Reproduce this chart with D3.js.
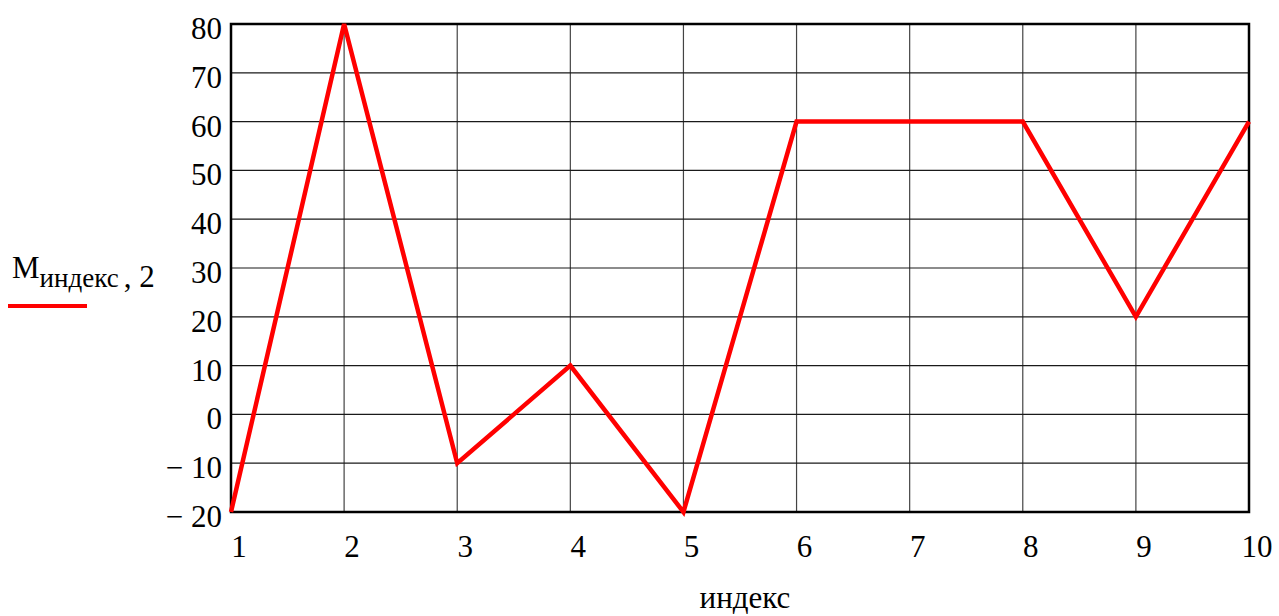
<!DOCTYPE html>
<html><head><meta charset="utf-8">
<script src="https://cdn.jsdelivr.net/npm/d3@7"></script>
<style>body{margin:0;background:#fff;}</style>
</head><body>
<svg id="c" width="1279" height="616" font-family="'Liberation Serif', 'DejaVu Serif', serif"></svg>
<script>
const indexValues = [1,2,3,4,5,6,7,8,9,10];
const mValues = [-20,80,-10,10,-20,60,60,60,20,60];
const yTicks = [-20,-10,0,10,20,30,40,50,60,70,80];
const xTicks = [1,2,3,4,5,6,7,8,9,10];
const xTitle = "индекс";

const svg = d3.select("#c");
const L=231, R=1249, T=24, B=512;
const x = d3.scaleLinear().domain([1,10]).range([L,R]);
const y = d3.scaleLinear().domain([-20,80]).range([B,T]);

svg.append("g").selectAll("line").data(xTicks).join("line")
  .attr("x1",d=>x(d)).attr("x2",d=>x(d)).attr("y1",T).attr("y2",B)
  .attr("stroke","#444").attr("stroke-width",1.2);
svg.append("g").selectAll("line").data(yTicks).join("line")
  .attr("x1",L).attr("x2",R).attr("y1",d=>y(d)).attr("y2",d=>y(d))
  .attr("stroke","#1a1a1a").attr("stroke-width",1.2);
svg.append("rect").attr("x",L).attr("y",T).attr("width",R-L).attr("height",B-T)
  .attr("fill","none").attr("stroke","#000").attr("stroke-width",2.5);

svg.append("g").selectAll("text").data(yTicks).join("text")
  .attr("x",L-9).attr("y",d=>y(d)+15).attr("text-anchor","end")
  .attr("font-size",31).text(d=>d<0?"\u2212 "+Math.abs(d):d);
svg.append("g").selectAll("text").data(xTicks).join("text")
  .attr("x",d=>x(d)+8).attr("y",557).attr("text-anchor","middle")
  .attr("font-size",31).text(d=>d);
svg.append("text").attr("x",745).attr("y",608).attr("text-anchor","middle")
  .attr("font-size",31).text(xTitle);

const line = d3.line().x((d,i)=>x(indexValues[i])).y(d=>y(d));
svg.append("path").datum(mValues).attr("d",line).attr("fill","none")
  .attr("stroke","#ff0000").attr("stroke-width",4.5).attr("stroke-linejoin","miter");

const lg = svg.append("text").attr("x",12).attr("y",278).attr("font-size",31);
lg.append("tspan").text("M");
lg.append("tspan").attr("dy",9).attr("font-size",27).text("индекс");
lg.append("tspan").attr("dx",5).text(", 2");
svg.append("line").attr("x1",8).attr("x2",87).attr("y1",306).attr("y2",306)
  .attr("stroke","#ff0000").attr("stroke-width",4);
</script>
</body></html>
